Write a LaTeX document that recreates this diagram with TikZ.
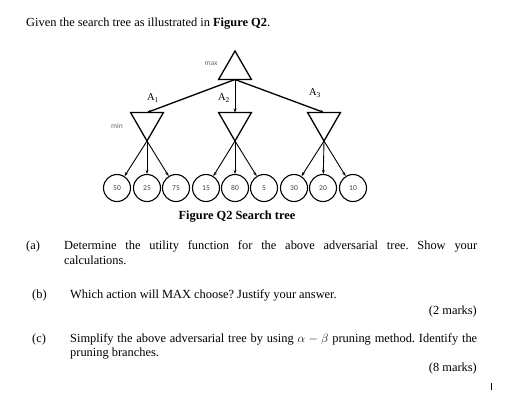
\documentclass[tikz,border=0pt]{standalone}
\usepackage{fontspec}
\setmainfont{Liberation Serif}
\newfontfamily\treefont{Carlito}
\usetikzlibrary{shapes.geometric,arrows.meta}
\frenchspacing

\begin{document}
\begin{tikzpicture}[
    x=1pt, y=-1pt,
    font=\fontsize{12.4}{15}\selectfont,
    body/.style={anchor=base west, inner sep=0pt},
    marks/.style={anchor=base east, inner sep=0pt},
    caption/.style={anchor=base, inner sep=0pt, font=\bfseries\fontsize{12.4}{15}\selectfont},
    maxnode/.style={draw, line width=1.3pt, regular polygon, regular polygon sides=3,
        minimum size=38pt, inner sep=0pt, outer sep=0pt},
    minnode/.style={maxnode, shape border rotate=180},
    leaf/.style={draw, circle, line width=1.1pt, minimum size=27pt, inner sep=0pt,
        font=\treefont\fontsize{7.5}{8}\selectfont, text=black!75},
    move/.style={draw, line width=1.3pt, -{Stealth[length=4pt, width=3pt]}},
    thinmove/.style={move, line width=0.8pt},
    branch/.style={draw, line width=0.9pt, -{Stealth[length=4pt, width=3pt]}},
    player/.style={font=\treefont\fontsize{7.5}{8}\selectfont, text=black!60, inner sep=0pt},
    action/.style={font=\fontsize{10.5}{12}\selectfont, inner sep=0pt},
]
    \useasboundingbox (0,0) rectangle (532,410);

    % Opening line
    \node[body] (intro) at (26,26.5) {Given the search tree as illustrated in \textbf{Figure Q2}.};

    % Max level
    \node[maxnode] (root) at (235,70) {};
    \node[player] (maxlabel) at (211,64) {max};

    % Min level
    \node[minnode] (minA) at (147,122) {};
    \node[minnode] (minB) at (235,122) {};
    \node[minnode] (minC) at (324,122) {};
    \node[player] (minlabel) at (117,126) {min};

    \draw[move] (root.south) -- (minA.north);
    \draw[thinmove] (root.south) -- (minB.north);
    \draw[move] (root.south) -- (minC.north);
    \node[action] (actA) at (153,98) {A\textsubscript{1}};
    \node[action] (actB) at (224,98) {A\textsubscript{2}};
    \node[action] (actC) at (315,93) {A\textsubscript{3}};

    % Leaves
    \foreach \n/\x/\v in {1/117/50, 2/147/25, 3/176/75, 4/206/15, 5/235/80,
                          6/264/5, 7/294/30, 8/323/20, 9/353/10} {
        \node[leaf] (leaf\n) at (\x,188) {\v};
    }
    \foreach \m/\a/\b/\c in {A/1/2/3, B/4/5/6, C/7/8/9} {
        \draw[branch] (min\m.corner 1) -- (leaf\a);
        \draw[branch] (min\m.corner 1) -- (leaf\b);
        \draw[branch] (min\m.corner 1) -- (leaf\c);
    }

    \node[caption] (figcap) at (237,219.5) {Figure Q2 Search tree};

    % (a)
    \node[body] (la) at (26,249.3) {(a)};
    \node[body] (qa) at (64,249.3) {\makebox[413pt][s]{Determine the utility function for the above adversarial tree. Show your}};
    \node[body] (qa2) at (64,264.3) {calculations.};

    % (b)
    \node[body] (lb) at (32,298.5) {(b)};
    \node[body] (qb) at (70,298.5) {Which action will MAX choose? Justify your answer.};
    \node[marks] (mb) at (477,314) {(2 marks)};

    % (c)
    \node[body] (lc) at (32,342.5) {(c)};
    \node[body] (qc) at (70,342.5) {\makebox[407pt][s]{Simplify the above adversarial tree by using $\alpha-\beta$ pruning method. Identify the}};
    \node[body] (qc2) at (70,356.5) {pruning branches.};
    \node[marks] (mc) at (477,371.5) {(8 marks)};

    % Text cursor
    \draw[line width=0.9pt] (491,383) -- (491,390);
\end{tikzpicture}
\end{document}
